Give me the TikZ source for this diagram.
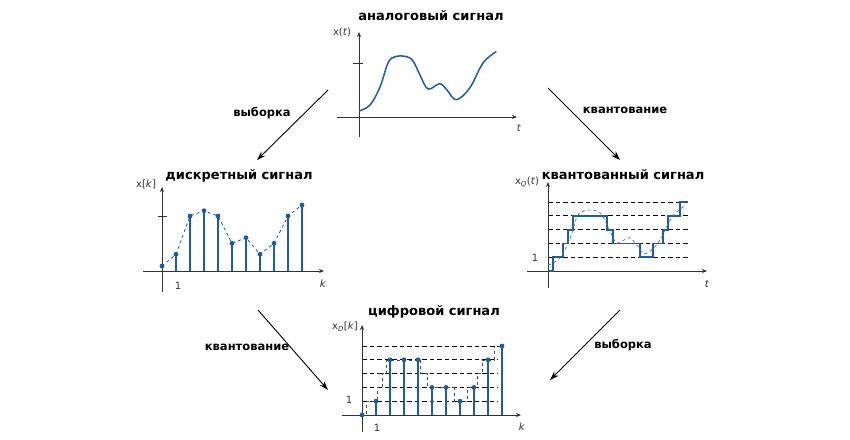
\documentclass[tikz,border=0pt]{standalone}
\usepackage{fontspec}
\setmainfont{DejaVu Sans}
\usetikzlibrary{arrows.meta, positioning}
\definecolor{sigblue}{RGB}{31,91,160}

\newcommand{\analogcurve}[1]{\draw[#1] plot[smooth, tension=0.6] coordinates {(0,6) (11,12) (21,30) (29,54) (36,60.3) (47,60.5) (54,56) (61,42) (69,28) (80.7,33.3) (88,27) (97.3,17.3) (110.7,29) (124,54) (137.4,65.5)};}
\newcommand{\quantsteps}[1]{\draw[#1] (0,0) -- (4.7,0) -- (4.7,13.8) -- (15.3,13.8) -- (15.3,27.6) -- (20.3,27.6) -- (20.3,41.4) -- (24.7,41.4) -- (24.7,55.2) -- (58.7,55.2) -- (58.7,41.4) -- (65.3,41.4) -- (65.3,27.6) -- (92,27.6) -- (92,13.8) -- (105.3,13.8) -- (105.3,27.6) -- (115.3,27.6) -- (115.3,41.4) -- (120.3,41.4) -- (120.3,55.2) -- (132,55.2) -- (132,69) -- (140,69);}

\begin{document}
\begin{tikzpicture}[
    x=1pt, y=-1pt,
    title/.style={font=\bfseries\fontsize{13}{15}\selectfont, inner sep=0pt, anchor=base},
    oplabel/.style={font=\bfseries\fontsize{11.5}{13}\selectfont, inner sep=0pt, anchor=base},
    axlabel/.style={font=\fontsize{10}{12}\selectfont, text=black!80, inner sep=0pt},
    axis/.style={-{Stealth[length=5pt, width=4pt]}, black!80, line width=0.7pt},
    arrow/.style={-{Stealth[length=9pt, width=6pt]}, line width=0.9pt},
    curve/.style={sigblue, line width=1.5pt},
    stairs/.style={sigblue, line width=1.8pt},
    stem/.style={sigblue, line width=1.6pt},
    level/.style={dash pattern=on 4.5pt off 3pt, line width=0.7pt}
]
\useasboundingbox (0,0) rectangle (850,439);

\node[title] (analog) at (431,20) {аналоговый сигнал};
\node[title] (discrete) at (239,179) {дискретный сигнал};
\node[title] (quantized) at (623,179) {квантованный сигнал};
\node[title] (digital) at (434,315.5) {цифровой сигнал};

\begin{scope}[shift={(359,117)}, yscale=-1]
  \draw[axis] (-22,0) -- (158,0);
  \draw[axis] (0,-20) -- (0,85);
  \draw[black!80, line width=0.6pt] (-6,54) -- (4,54);
  \analogcurve{curve}
\end{scope}
\node[axlabel] (xt) at (342,32) {x(\textit{t})};
\node[axlabel] (ta) at (519,128) {\textit{t}};

\begin{scope}[shift={(162,271)}, yscale=-1]
  \draw[axis] (-19,0) -- (162,0);
  \draw[axis] (0,-21) -- (0,84);
  \draw[black!80, line width=0.6pt] (-4,55) -- (5,55);
  \draw[sigblue, dashed, line width=0.8pt] (0,5) \foreach \h [count=\k from 1] in {16.7,55,60.3,55,27.7,33.3,16.7,27.7,55,66} { -- (14*\k,\h)};
  \foreach \h [count=\k from 0] in {5,16.7,55,60.3,55,27.7,33.3,16.7,27.7,55,66} {
    \ifnum\k>0 \draw[stem] (14*\k,0) -- (14*\k,\h); \fi
    \fill[sigblue] (14*\k,\h) circle[radius=2.4pt];
  }
\end{scope}
\node[axlabel] (xk) at (146,184) {x[\textit{k}]};
\node[axlabel] (ka) at (323,284) {\textit{k}};
\node[axlabel] (one1) at (178,286) {1};

\begin{scope}[shift={(548,271)}, yscale=-1]
  \foreach \n in {1,...,5} \draw[level] (0,13.8*\n) -- (140,13.8*\n);
  \draw[axis] (-21,0) -- (159,0);
  \draw[axis] (0,-17) -- (0,89);
  \quantsteps{stairs}
  \analogcurve{sigblue!80, dashed, line width=0.8pt}
\end{scope}
\node[axlabel] (xqt) at (527,182) {x\textsubscript{\textit{Q}}(\textit{t})};
\node[axlabel] (tb) at (707,284) {\textit{t}};
\node[axlabel] (one2) at (535,258) {1};

\begin{scope}[shift={(362,415)}, yscale=-1]
  \foreach \n in {1,...,5} \draw[level] (0,13.8*\n) -- (136,13.8*\n);
  \draw[axis] (-20,0) -- (159,0);
  \draw[axis] (0,-17) -- (0,90);
  \quantsteps{black!70, dashed, line width=0.6pt}
  \foreach \q [count=\k from 0] in {0,1,4,4,4,2,2,1,2,4,5} {
    \ifnum\q>0 \draw[stem] (14*\k,0) -- (14*\k,13.8*\q); \fi
    \fill[sigblue] (14*\k,13.8*\q) circle[radius=2.4pt];
  }
\end{scope}
\node[axlabel] (xdk) at (345,327) {x\textsubscript{\textit{D}}[\textit{k}]};
\node[axlabel] (kb) at (522,427) {\textit{k}};
\node[axlabel] (one3) at (349,400) {1};
\node[axlabel] (one4) at (377,428) {1};

\coordinate (s1) at (328,90);  \coordinate (e1) at (257,160);
\coordinate (s2) at (548,88);  \coordinate (e2) at (620,160);
\coordinate (s3) at (258,310); \coordinate (e3) at (328,390);
\coordinate (s4) at (620,310); \coordinate (e4) at (550,380);
\draw[arrow] (s1) -- (e1);
\draw[arrow] (s2) -- (e2);
\draw[arrow] (s3) -- (e3);
\draw[arrow] (s4) -- (e4);
\node[oplabel] (samp1) at (262,116) {выборка};
\node[oplabel] (quant1) at (625,113) {квантование};
\node[oplabel] (quant2) at (247,350) {квантование};
\node[oplabel] (samp2) at (623,348) {выборка};

\end{tikzpicture}
\end{document}
